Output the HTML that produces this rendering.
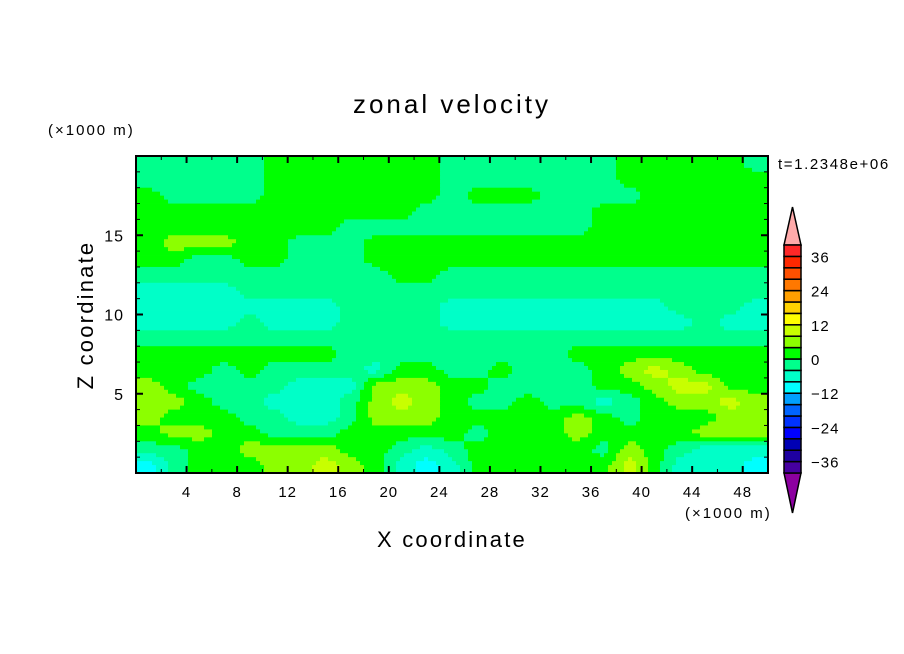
<!DOCTYPE html>
<html><head><meta charset="utf-8"><style>
body{margin:0;background:#fff}
svg{display:block;font-family:"Liberation Sans",sans-serif}
</style></head><body>
<svg id="chart" width="904" height="654" viewBox="0 0 904 654" xmlns="http://www.w3.org/2000/svg">
<rect width="904" height="654" fill="#fff"/>
<text x="452" y="113" text-anchor="middle" font-size="26" letter-spacing="3">zonal velocity</text>
<text x="48" y="135" font-size="15" letter-spacing="2">(×1000 m)</text>
<text x="685" y="518" font-size="15" letter-spacing="2">(×1000 m)</text>
<text x="778" y="169" font-size="15" letter-spacing="1.6">t=1.2348e+06</text>
<text x="452" y="547" text-anchor="middle" font-size="22" letter-spacing="2.2">X coordinate</text>
<text transform="translate(93,315) rotate(-90)" text-anchor="middle" font-size="22" letter-spacing="2.2">Z coordinate</text>
<g id="field"></g>
<g id="axes"></g>
<g id="cbar"></g>
</svg>
<script>
const G=2,M=-2,A=-6,C=-10,Y=6,YY=10;
const xTicks=[4,8,12,16,20,24,28,32,36,40,44,48];
const yTicks=[5,10,15];
const levels=[-40,-36,-32,-28,-24,-20,-16,-12,-8,-4,0,4,8,12,16,20,24,28,32,36,40];
const cbarLabels=[36,24,12,0,-12,-24,-36];
const levelColors=['#4600a0','#1e00a0','#0000b4','#0000ff','#0032ff','#0064ff','#00a0ff','#00ffff','#00ffc8','#00ff8c','#00ff00','#8cff00','#c8ff00','#ffff00','#ffd200','#ffa000','#ff7800','#ff5000','#ff2800','#ff2828'];
// grid rows from z=19.5 (top) to z=0.5, columns x=1,3,...,49
const row0 =[M,M,M,M,M,G,G,G,G,G,G,G,M,M,M,M,M,M,M,G,G,G,G,G,M];
const row1 =[M,M,M,M,M,G,G,G,G,G,G,G,M,M,M,M,M,M,M,G,G,G,G,G,G];
const row2 =[G,M,M,M,M,G,G,G,G,G,G,G,M,G,G,G,M,M,M,M,G,G,G,G,G];
const row3 =[G,G,G,G,G,G,G,G,G,G,G,M,M,M,M,M,M,M,G,G,G,G,G,G,G];
const row4 =[G,G,G,G,G,G,G,G,M,M,M,M,M,M,M,M,M,M,G,G,G,G,G,G,G];
const row5 =[G,Y,Y,Y,G,G,M,M,M,G,G,G,G,G,G,G,G,G,G,G,G,G,G,G,G];
const row6 =[G,G,M,M,G,G,M,M,M,G,G,G,G,G,G,G,G,G,G,G,G,G,G,G,G];
const row7 =[M,M,M,M,M,M,M,M,M,M,G,G,M,M,M,M,M,M,M,M,M,M,M,M,M];
const row8 =[A,A,A,A,M,M,M,M,M,M,M,M,M,M,M,M,M,M,M,M,M,M,M,M,M];
const row9 =[A,A,A,A,A,A,A,A,M,M,M,M,A,A,A,A,A,A,A,A,A,M,M,M,A];
const row10=[A,A,A,A,M,A,A,A,M,M,M,M,A,A,A,A,A,A,A,A,A,A,M,A,A];
const row11=[M,M,M,M,M,M,M,M,M,M,M,M,M,M,M,M,M,M,M,M,M,M,M,M,M];
const row12=[G,G,G,G,G,G,G,G,M,M,M,M,M,M,M,M,M,G,G,G,G,G,G,G,G];
const row13=[G,G,G,M,G,M,M,M,M,A,G,G,M,M,G,M,M,M,G,Y,YY,Y,G,G,G];
const row14=[Y,G,M,M,M,M,A,A,A,Y,Y,Y,G,G,M,M,M,M,G,G,Y,YY,YY,G,G];
const row15=[Y,Y,G,M,M,A,A,A,M,Y,YY,Y,G,M,M,G,M,M,A,M,G,Y,Y,YY,Y];
const row16=[Y,G,G,G,M,M,A,A,M,Y,Y,Y,G,G,G,G,G,Y,G,M,G,G,G,Y,Y];
const row17=[G,Y,Y,G,G,M,M,M,G,G,G,G,G,M,G,G,G,Y,G,G,G,G,Y,Y,Y];
const row18=[M,M,G,G,Y,Y,Y,Y,G,G,M,A,M,G,G,G,G,G,M,Y,G,M,A,A,A];
const row19=[C,M,G,G,G,Y,Y,YY,Y,G,A,C,A,G,G,G,G,G,G,YY,G,A,A,A,C];
const grid=[row0,row1,row2,row3,row4,row5,row6,row7,row8,row9,row10,row11,row12,row13,row14,row15,row16,row17,row18,row19];

const X0=136,X1=768,Ytop=156,Ybot=473,XMAX=50,ZMAX=20;
const sx=x=>X0+(X1-X0)*x/XMAX;
const sy=z=>Ybot-(Ybot-Ytop)*z/ZMAX;
const NS="http://www.w3.org/2000/svg";
function mk(tag,attrs,parent){const e=document.createElementNS(NS,tag);for(const k in attrs)e.setAttribute(k,attrs[k]);parent.appendChild(e);return e;}
function colorFor(v){for(let i=0;i<levels.length-1;i++){if(v<levels[i+1])return levelColors[i];}return levelColors[levelColors.length-1];}
function sample(x,z){
  const nr=grid.length,nc=grid[0].length;
  let u=x/2-0.5, v=(ZMAX-0.5)-z;
  u=Math.max(0,Math.min(nc-1,u)); v=Math.max(0,Math.min(nr-1,v));
  const i0=Math.floor(v),j0=Math.floor(u),i1=Math.min(nr-1,i0+1),j1=Math.min(nc-1,j0+1);
  const fu=u-j0,fv=v-i0;
  const a=grid[i0][j0]*(1-fu)+grid[i0][j1]*fu, b=grid[i1][j0]*(1-fu)+grid[i1][j1]*fu;
  return a*(1-fv)+b*fv;
}
const field=document.getElementById('field');
const NX=158,NZ=80;
for(let r=0;r<NZ;r++){
  const z0=ZMAX*(NZ-r-1)/NZ, z1=ZMAX*(NZ-r)/NZ, zc=(z0+z1)/2;
  let start=0,cur=colorFor(sample(XMAX*0.5/NX,zc));
  for(let c=1;c<=NX;c++){
    const col=c<NX?colorFor(sample(XMAX*(c+0.5)/NX,zc)):null;
    if(col!==cur){
      const x0=sx(XMAX*start/NX),x1=sx(XMAX*c/NX);
      const rc=mk('rect',{x:x0,y:sy(z1),width:x1-x0+0.4,height:sy(z0)-sy(z1)+0.4,fill:cur},field);
      
      
      start=c;cur=col;
    }
  }
}
const axes=document.getElementById('axes');
mk('rect',{x:X0,y:Ytop,width:X1-X0,height:Ybot-Ytop,fill:'none',stroke:'#000','stroke-width':2},axes);
for(let x=2;x<XMAX;x+=2){
  const major=xTicks.includes(x),L=major?7:4;
  mk('line',{x1:sx(x),x2:sx(x),y1:Ybot,y2:Ybot-L,stroke:'#000','stroke-width':major?2:1},axes);
  mk('line',{x1:sx(x),x2:sx(x),y1:Ytop,y2:Ytop+L,stroke:'#000','stroke-width':major?2:1},axes);
}
xTicks.forEach(x=>{
  const t=mk('text',{x:sx(x),y:497,'text-anchor':'middle','font-size':15,'letter-spacing':1},axes);t.textContent=x;
  
  
});
for(let z=1;z<ZMAX;z++){
  const major=yTicks.includes(z),L=major?7:4;
  mk('line',{x1:X0,x2:X0+L,y1:sy(z),y2:sy(z),stroke:'#000','stroke-width':major?2:1},axes);
  mk('line',{x1:X1,x2:X1-L,y1:sy(z),y2:sy(z),stroke:'#000','stroke-width':major?2:1},axes);
}
yTicks.forEach(z=>{
  const t=mk('text',{x:124,y:sy(z)+6,'text-anchor':'end','font-size':16,'letter-spacing':1},axes);t.textContent=z;
  
  
});
const cb=document.getElementById('cbar');
const CX=784,CW=17,CT=245,CB=473,nb=levelColors.length,bh=(CB-CT)/nb;
const cy=v=>CB-(v-levels[0])/(levels[levels.length-1]-levels[0])*(CB-CT);
mk('polygon',{points:`${CX},${CT} ${CX+CW},${CT} ${CX+CW/2},207`,fill:'#ffaaaa',stroke:'#000','stroke-width':1.5},cb);
mk('polygon',{points:`${CX},${CB} ${CX+CW},${CB} ${CX+CW/2},513`,fill:'#8c00a0',stroke:'#000','stroke-width':1.5},cb);
for(let i=0;i<nb;i++){
  const b=mk('rect',{x:CX,y:cy(levels[i+1]),width:CW,height:bh,fill:levelColors[i],stroke:'#000','stroke-width':1.5},cb);
  
  
}
cbarLabels.forEach(v=>{
  const t=mk('text',{x:811,y:cy(v)+6,'font-size':15,'letter-spacing':1},cb);t.textContent=v<0?'−'+(-v):v;
  
  
});
</script>
</body></html>
